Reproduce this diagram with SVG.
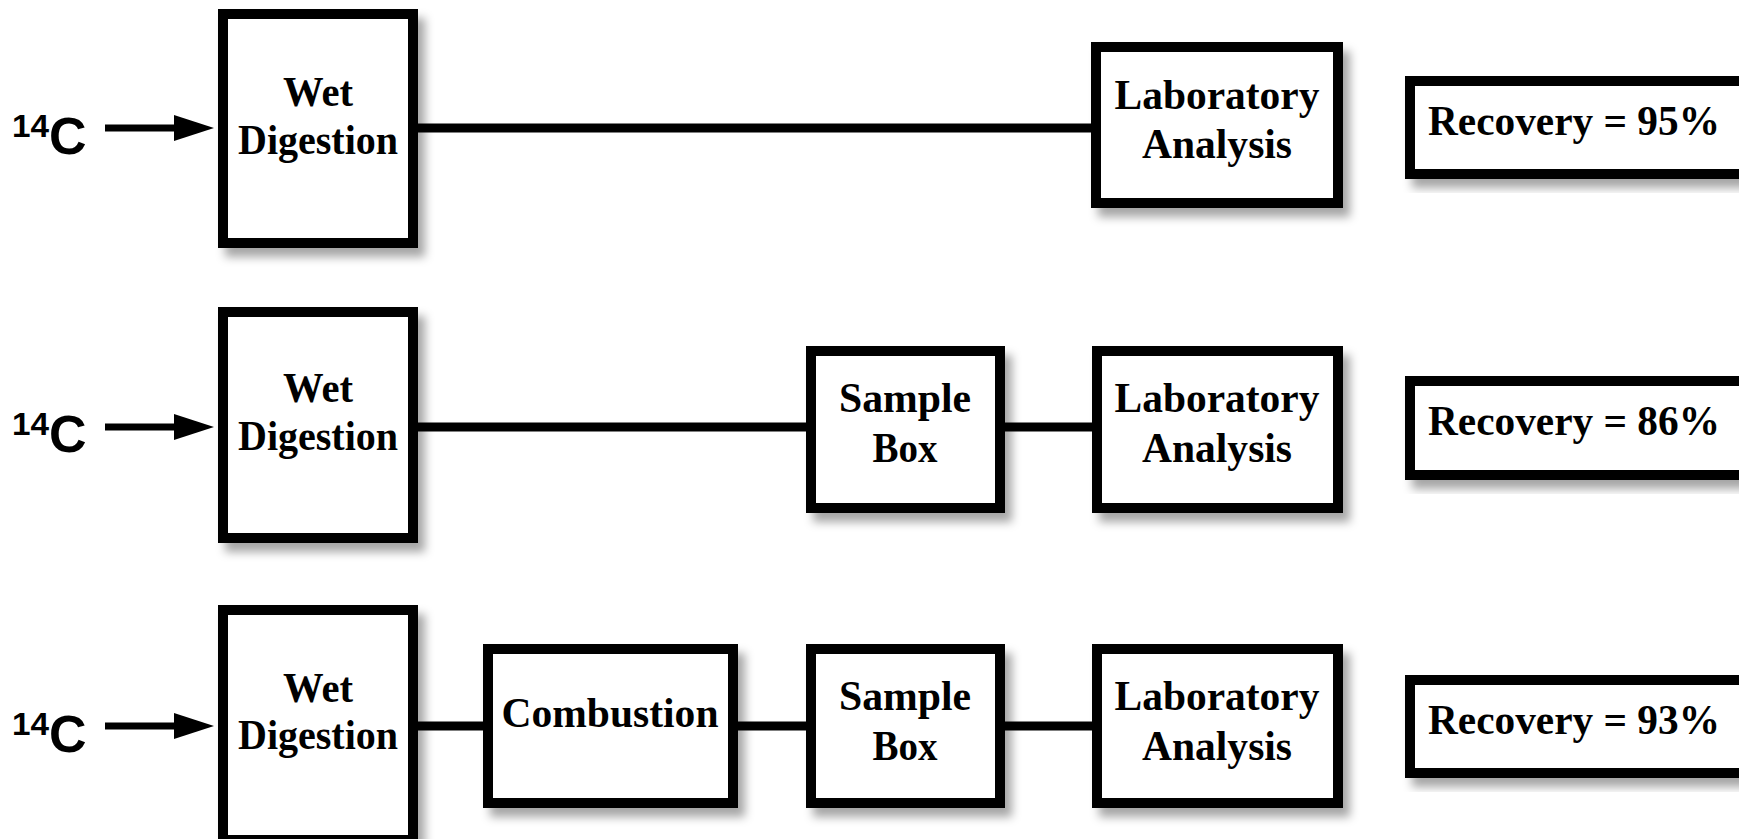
<svg xmlns="http://www.w3.org/2000/svg" width="1739" height="839" viewBox="0 0 1739 839">
<defs>
<filter id="sh" x="-10%" y="-10%" width="130%" height="130%">
<feDropShadow dx="7" dy="9" stdDeviation="5" flood-color="#000" flood-opacity="0.35"/>
</filter>
<style>
.box{fill:#fff;stroke:#000;stroke-width:10;filter:url(#sh)}
.t{font-family:"Liberation Serif","Times New Roman",serif;font-weight:bold;font-size:43px;fill:#000;text-anchor:middle}
.r{font-family:"Liberation Serif","Times New Roman",serif;font-weight:bold;font-size:43px;fill:#000}
.c{font-family:"Liberation Sans",Arial,sans-serif;font-weight:bold;fill:#000}
.ln{stroke:#000;stroke-width:9;fill:none}
.ar{stroke:#000;stroke-width:7;fill:none}
.hd{fill:#000}
</style>
</defs>
<rect width="1739" height="839" fill="#fff"/>
<g id="connectors">
<line class="ln" x1="418" y1="128" x2="1091" y2="128"/>
<line class="ln" x1="418" y1="427" x2="806" y2="427"/>
<line class="ln" x1="1005" y1="427" x2="1092" y2="427"/>
<line class="ln" x1="418" y1="726" x2="483" y2="726"/>
<line class="ln" x1="738" y1="726" x2="806" y2="726"/>
<line class="ln" x1="1005" y1="726" x2="1092" y2="726"/>
<line class="ar" x1="105" y1="128" x2="180" y2="128"/>
<polygon class="hd" points="174,115 214,128 174,141"/>
<line class="ar" x1="105" y1="427" x2="180" y2="427"/>
<polygon class="hd" points="174,414 214,427 174,440"/>
<line class="ar" x1="105" y1="726" x2="180" y2="726"/>
<polygon class="hd" points="174,713 214,726 174,739"/>
</g>
<g id="src1"><text class="c" x="12" y="154"><tspan font-size="31" dy="-17" textLength="37" lengthAdjust="spacingAndGlyphs">14</tspan><tspan font-size="52" dy="17">C</tspan></text></g>
<g id="src2"><text class="c" x="12" y="452"><tspan font-size="31" dy="-17" textLength="37" lengthAdjust="spacingAndGlyphs">14</tspan><tspan font-size="52" dy="17">C</tspan></text></g>
<g id="src3"><text class="c" x="12" y="752"><tspan font-size="31" dy="-17" textLength="37" lengthAdjust="spacingAndGlyphs">14</tspan><tspan font-size="52" dy="17">C</tspan></text></g>
<g id="wd1"><rect class="box" x="223" y="14" width="190" height="229"/><text class="t" x="318" y="106" textLength="70" lengthAdjust="spacingAndGlyphs">Wet</text><text class="t" x="318" y="154" textLength="160" lengthAdjust="spacingAndGlyphs">Digestion</text></g>
<g id="lab1"><rect class="box" x="1096" y="47" width="242" height="156"/><text class="t" x="1217" y="109" textLength="205" lengthAdjust="spacingAndGlyphs">Laboratory</text><text class="t" x="1217" y="158" textLength="150" lengthAdjust="spacingAndGlyphs">Analysis</text></g>
<g id="rec1"><rect class="box" x="1410" y="81" width="360" height="93"/><text class="r" x="1428" y="135" textLength="292" lengthAdjust="spacingAndGlyphs">Recovery = 95%</text></g>
<g id="wd2"><rect class="box" x="223" y="312" width="190" height="226"/><text class="t" x="318" y="402" textLength="70" lengthAdjust="spacingAndGlyphs">Wet</text><text class="t" x="318" y="450" textLength="160" lengthAdjust="spacingAndGlyphs">Digestion</text></g>
<g id="sb2"><rect class="box" x="811" y="351" width="189" height="157"/><text class="t" x="905" y="412" textLength="132" lengthAdjust="spacingAndGlyphs">Sample</text><text class="t" x="905" y="462" textLength="65" lengthAdjust="spacingAndGlyphs">Box</text></g>
<g id="lab2"><rect class="box" x="1097" y="351" width="241" height="157"/><text class="t" x="1217" y="412" textLength="205" lengthAdjust="spacingAndGlyphs">Laboratory</text><text class="t" x="1217" y="462" textLength="150" lengthAdjust="spacingAndGlyphs">Analysis</text></g>
<g id="rec2"><rect class="box" x="1410" y="381" width="360" height="94"/><text class="r" x="1428" y="435" textLength="292" lengthAdjust="spacingAndGlyphs">Recovery = 86%</text></g>
<g id="wd3"><rect class="box" x="223" y="610" width="190" height="230"/><text class="t" x="318" y="702" textLength="70" lengthAdjust="spacingAndGlyphs">Wet</text><text class="t" x="318" y="749" textLength="160" lengthAdjust="spacingAndGlyphs">Digestion</text></g>
<g id="comb"><rect class="box" x="488" y="649" width="245" height="154"/><text class="t" x="610" y="727" textLength="217" lengthAdjust="spacingAndGlyphs">Combustion</text></g>
<g id="sb3"><rect class="box" x="811" y="649" width="189" height="154"/><text class="t" x="905" y="710" textLength="132" lengthAdjust="spacingAndGlyphs">Sample</text><text class="t" x="905" y="760" textLength="65" lengthAdjust="spacingAndGlyphs">Box</text></g>
<g id="lab3"><rect class="box" x="1097" y="649" width="241" height="154"/><text class="t" x="1217" y="710" textLength="205" lengthAdjust="spacingAndGlyphs">Laboratory</text><text class="t" x="1217" y="760" textLength="150" lengthAdjust="spacingAndGlyphs">Analysis</text></g>
<g id="rec3"><rect class="box" x="1410" y="680" width="360" height="93"/><text class="r" x="1428" y="734" textLength="292" lengthAdjust="spacingAndGlyphs">Recovery = 93%</text></g>
</svg>
